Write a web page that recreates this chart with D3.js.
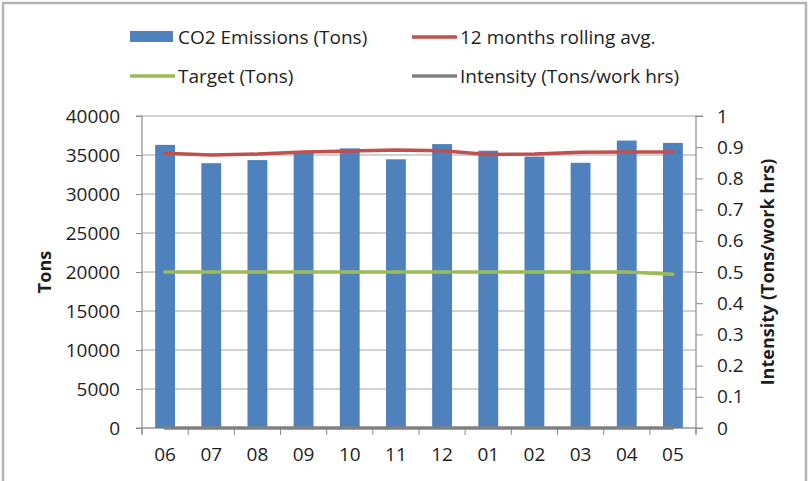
<html>
<script src="https://d3js.org/d3.v7.min.js"></script>
<style>
    body { margin: 0; background: #fff; }
    text { font-family: 'Open Sans', sans-serif; fill: #1e1e1e; }
</style>
<body>
<svg id="chart" width="808" height="481"></svg>
<script>
    // data
    const months = ["06", "07", "08", "09", "10", "11", "12", "01", "02", "03", "04", "05"];
    const emissions = [36300, 33950, 34350, 35400, 35850, 34450, 36400, 35550, 34800, 34000, 36850, 36550];
    const rollingAvg = [0.881, 0.875, 0.878, 0.885, 0.888, 0.891, 0.889, 0.877, 0.878, 0.884, 0.885, 0.885];
    const target = [20000, 20000, 20000, 20000, 20000, 20000, 20000, 20000, 20000, 20000, 20000, 19700];
    const intensity = [0, 0, 0, 0, 0, 0, 0, 0, 0, 0, 0, 0];
    const leftTicks = [0, 5000, 10000, 15000, 20000, 25000, 30000, 35000, 40000];
    const rightTicks = [0, 0.1, 0.2, 0.3, 0.4, 0.5, 0.6, 0.7, 0.8, 0.9, 1];

    const svg = d3.select("svg#chart");
    const plot = {left: 142, right: 696, top: 116, bottom: 428};
    const axisColor = "#8c8c8c";

    // chart frame (top, left, right edges only)
    svg.append("path")
        .attr("d", "M3,481 V3 H806 V481")
        .attr("fill", "none")
        .attr("stroke", "#b4b4b4")
        .attr("stroke-width", 2.5);

    let xScale = d3.scaleBand()
        .domain(months)
        .range([plot.left, plot.right])
        .padding(0);

    let yLeft = d3.scaleLinear().domain([0, 40000]).range([plot.bottom, plot.top]);
    let yRight = d3.scaleLinear().domain([0, 1]).range([plot.bottom, plot.top]);

    // gridlines
    svg.append("g").selectAll("line")
        .data(leftTicks)
        .enter().append("line")
        .attr("x1", plot.left).attr("x2", plot.right)
        .attr("y1", d => yLeft(d)).attr("y2", d => yLeft(d))
        .attr("stroke", "#a6a6a6")
        .attr("stroke-width", 1);

    // left axis
    const leftAxis = svg.append("g")
        .attr("transform", "translate(" + plot.left + ",0)")
        .call(d3.axisLeft(yLeft).tickValues(leftTicks).tickSize(6).tickPadding(16).tickFormat(d3.format("d")));

    // right axis
    const rightAxis = svg.append("g")
        .attr("transform", "translate(" + plot.right + ",0)")
        .call(d3.axisRight(yRight).tickValues(rightTicks).tickSize(7).tickPadding(14).tickFormat(d => d));

    // bottom axis, ticks at category boundaries
    const bottomAxis = svg.append("g")
        .attr("transform", "translate(0," + plot.bottom + ")")
        .call(d3.axisBottom(xScale).tickSize(0).tickPadding(20));
    bottomAxis.selectAll(".bound")
        .data(d3.range(months.length + 1))
        .enter().append("line")
        .attr("class", "bound")
        .attr("x1", i => plot.left + i * xScale.step())
        .attr("x2", i => plot.left + i * xScale.step())
        .attr("y1", 0).attr("y2", 7)
        .attr("stroke", axisColor);

    [leftAxis, rightAxis, bottomAxis].forEach(g => {
        g.select(".domain").attr("stroke", axisColor).attr("stroke-width", 1.2);
        g.selectAll(".tick line").attr("stroke", axisColor);
        g.selectAll("text").style("font-size", "19px").attr("fill", "#1e1e1e")
            .style("font-family", "'Open Sans', sans-serif");
    });
    leftAxis.select(".domain").attr("d", "M-6," + plot.top + "H0V" + (plot.bottom + 6));
    rightAxis.select(".domain").attr("d", "M7," + plot.top + "H0V" + (plot.bottom + 6));
    bottomAxis.select(".domain").attr("d", "M" + (plot.left - 6) + ",0H" + (plot.right + 7));

    // bars
    const barWidth = xScale.bandwidth() * 0.43;
    svg.append("g").selectAll("rect")
        .data(emissions)
        .enter().append("rect")
        .attr("x", (d, i) => xScale(months[i]) + (xScale.bandwidth() - barWidth) / 2)
        .attr("width", barWidth)
        .attr("y", d => yLeft(d))
        .attr("height", d => plot.bottom - yLeft(d))
        .attr("fill", "#4f81bd");

    const cx = i => xScale(months[i]) + xScale.bandwidth() / 2;

    function drawLine(values, scale, color) {
        svg.append("path")
            .datum(values)
            .attr("fill", "none")
            .attr("stroke", color)
            .attr("stroke-width", 3.5)
            .attr("stroke-linecap", "round")
            .attr("d", d3.line().x((d, i) => cx(i)).y(d => scale(d)));
    }
    drawLine(intensity, yRight, "#808080");
    drawLine(target, yLeft, "#9bbb59");
    drawLine(rollingAvg, yRight, "#c0504d");

    // axis titles
    svg.append("text")
        .attr("transform", "translate(51,272) rotate(-90)")
        .attr("text-anchor", "middle")
        .style("font-size", "18px").style("font-weight", "bold")
        .text("Tons");
    svg.append("text")
        .attr("transform", "translate(774,272) rotate(-90)")
        .attr("text-anchor", "middle")
        .style("font-size", "18px").style("font-weight", "bold")
        .text("Intensity (Tons/work hrs)");

    // legend
    const legend = svg.append("g");
    const items = [
        {label: "CO2 Emissions (Tons)", color: "#4f81bd", type: "bar", x: 130, y: 37},
        {label: "12 months rolling avg.", color: "#c0504d", type: "line", x: 412, y: 37},
        {label: "Target (Tons)", color: "#9bbb59", type: "line", x: 130, y: 76},
        {label: "Intensity (Tons/work hrs)", color: "#808080", type: "line", x: 412, y: 76}
    ];
    items.forEach(it => {
        if (it.type === "bar") {
            legend.append("rect").attr("x", it.x).attr("y", it.y - 6)
                .attr("width", 43).attr("height", 11).attr("fill", it.color);
        } else {
            legend.append("line").attr("x1", it.x).attr("x2", it.x + 45)
                .attr("y1", it.y).attr("y2", it.y)
                .attr("stroke", it.color).attr("stroke-width", 3.5);
        }
        legend.append("text").attr("x", it.x + 48).attr("y", it.y)
            .attr("dy", "0.35em")
            .style("font-size", "19px")
            .text(it.label);
    });
</script>
</body>
</html>
